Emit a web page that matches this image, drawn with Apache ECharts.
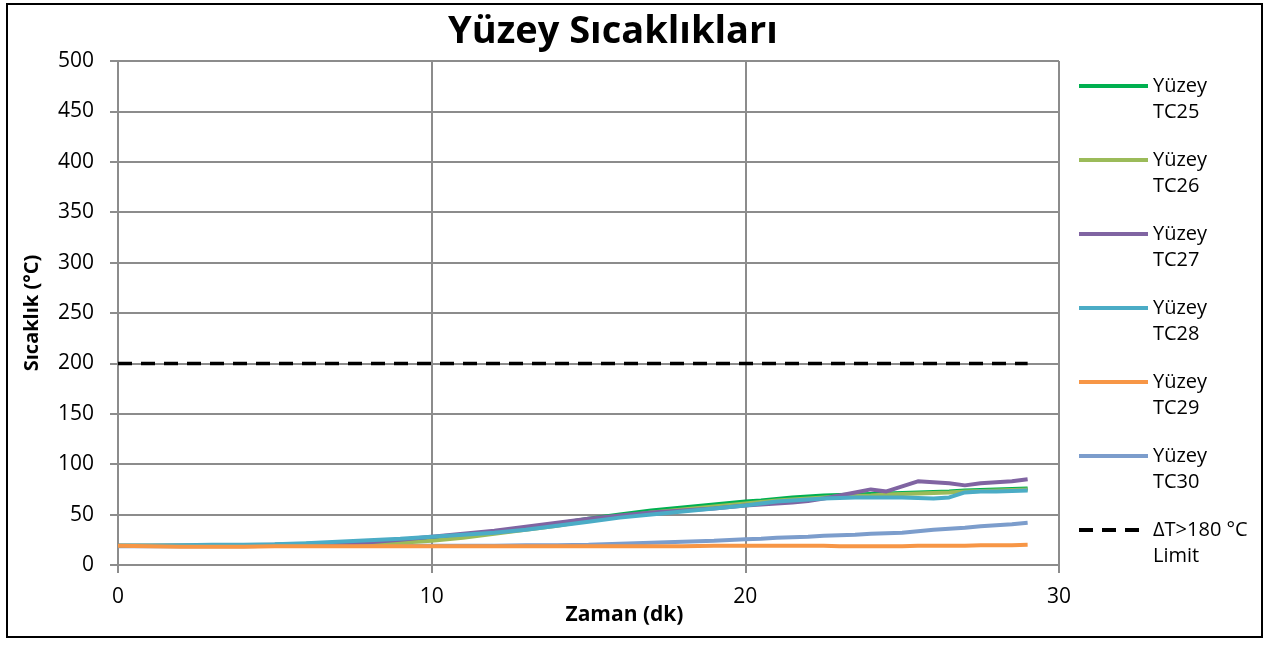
<!DOCTYPE html>
<html>
<head>
<meta charset="utf-8">
<title>Yüzey Sıcaklıkları</title>
<script src="https://cdn.jsdelivr.net/npm/echarts@6/dist/echarts.min.js"></script>
<style>
  html, body { margin: 0; padding: 0; background: #fff; }
  #chart { width: 1270px; height: 652px; }
</style>
</head>
<body>
<div id="chart"></div>
<script>
'use strict';

// time axis (minutes)
var minutes = [0, 1, 2, 3, 4, 5, 6, 7, 8, 9, 10, 11, 12, 13, 14, 15, 16, 17, 18, 19, 20,
  20.5, 21, 21.5, 22, 22.5, 23, 23.5, 24, 24.5, 25, 25.5, 26, 26.5, 27, 27.5, 28, 28.5, 29];

var tc25 = [19, 19, 19, 19, 19.5, 20, 21, 21.5, 22, 23, 26, 29, 33, 37, 41, 46, 50, 54, 57, 60, 63,
  64, 65.5, 67, 68, 69, 69.5, 70, 70.5, 71, 71.5, 72, 72.5, 73, 74, 74.5, 75, 75.5, 76];
var tc26 = [19, 19, 19, 19, 19, 19.5, 20, 20.5, 21, 22, 24, 27, 31, 35, 39, 44, 48, 52, 55, 58, 61,
  62.5, 64, 65, 66, 67, 68, 68.5, 69, 70, 70.5, 71, 71.5, 72, 73, 73.5, 74, 74.5, 75];
var tc27 = [19, 19, 19, 19, 19.5, 20, 20.5, 21, 22.5, 25, 28, 31, 34, 38, 42, 46, 49, 52, 54, 56, 59,
  60, 61, 62, 63.5, 66, 69, 72, 75, 73, 78, 83, 82, 81, 79, 81, 82, 83, 85];
var tc28 = [19, 19, 19.5, 20, 20, 20.5, 21.5, 23, 24.5, 26, 28, 30, 32, 35, 39, 43, 47, 50, 53, 56, 59,
  61, 63, 64, 65, 66, 66.5, 67, 67, 67, 67, 66.5, 66, 67, 72, 73, 73, 73.5, 74];
var tc29 = [19, 18.5, 18, 18, 18, 18.5, 18.5, 18.5, 18.5, 18.5, 18.5, 18.5, 18.5, 18.5, 18.5, 18.5, 18.5, 18.5, 18.5, 19, 19,
  19, 19, 19, 19, 19, 18.5, 18.5, 18.5, 18.5, 18.5, 19, 19, 19, 19, 19.5, 19.5, 19.5, 20];
var tc30 = [18.5, 18.5, 18.5, 18.5, 18.5, 19, 19, 19, 19, 19, 19, 19, 19, 19.5, 19.5, 20, 21, 22, 23, 24, 25.5,
  26, 27, 27.5, 28, 29, 29.5, 30, 31, 31.5, 32, 33.5, 35, 36, 37, 38.5, 39.5, 40.5, 42];

var limitTimes = [0, 29];
var limitValues = [200, 200];

var seriesNames = ['Yüzey\nTC25', 'Yüzey\nTC26', 'Yüzey\nTC27', 'Yüzey\nTC28', 'Yüzey\nTC29', 'Yüzey\nTC30'];
var seriesValues = [tc25, tc26, tc27, tc28, tc29, tc30];
var colors = ['#00b050', '#9bbb59', '#8064a2', '#4bacc6', '#f79646', '#7c9dcc'];
var limitName = 'ΔT>180 °C\nLimit';

function pairs(xs, ys) {
  return xs.map(function (x, i) { return [x, ys[i]]; });
}

var myChart = echarts.init(document.getElementById('chart'));

var series = seriesValues.map(function (vals, i) {
  return {
    name: seriesNames[i],
    type: 'line',
    symbol: 'none',
    data: pairs(minutes, vals),
    lineStyle: { color: colors[i], width: 4 },
    itemStyle: { color: colors[i] },
    z: 2 + (i === 5 ? 0 : i)
  };
});
series.push({
  name: limitName,
  type: 'line',
  symbol: 'none',
  data: pairs(limitTimes, limitValues),
  lineStyle: { color: '#000', width: 3.5, type: [14, 9] },
  itemStyle: { color: '#000' }
});

var gridColor = '#8c8c8c';

var option = {
  animation: false,
  backgroundColor: '#fff',
  textStyle: { fontFamily: 'Open Sans' },
  title: {
    text: 'Yüzey Sıcaklıkları',
    left: 443,
    top: 8,
    textStyle: { fontFamily: 'Open Sans', fontWeight: 'bold', fontSize: 38, color: '#000' }
  },
  grid: { left: 118, right: 211, top: 61, bottom: 87 },
  legend: {
    orient: 'vertical',
    left: 1077,
    top: 47,
    padding: 0,
    itemGap: -4,
    itemWidth: 69,
    itemHeight: 4,
    data: seriesNames.concat([limitName]),
    // blank first line keeps the icon level with the first text line
    formatter: function (name) { return '\n' + name; },
    itemStyle: { opacity: 0 },
    lineStyle: { width: 4 },
    textStyle: {
      fontFamily: 'Open Sans',
      fontSize: 20,
      color: '#000',
      lineHeight: 26
    }
  },
  xAxis: {
    type: 'value',
    min: 0,
    max: 30,
    interval: 10,
    name: 'Zaman (dk)',
    nameLocation: 'middle',
    nameGap: 40,
    nameMoveOverlap: false,
    nameTextStyle: { fontFamily: 'Open Sans', fontWeight: 'bold', fontSize: 21, color: '#000', padding: [0, 0, 0, 72] },
    axisLine: { show: true, lineStyle: { color: gridColor, width: 2 } },
    axisTick: { show: true, length: 8, lineStyle: { color: gridColor, width: 2 } },
    axisLabel: { margin: 22, fontSize: 21, color: '#000', fontFamily: 'Open Sans' },
    splitLine: { show: true, lineStyle: { color: gridColor, width: 2 } }
  },
  yAxis: {
    type: 'value',
    min: 0,
    max: 500,
    interval: 50,
    name: 'Sıcaklık (°C)',
    nameLocation: 'middle',
    nameGap: 76,
    nameTextStyle: { fontFamily: 'Open Sans', fontWeight: 'bold', fontSize: 20, color: '#000' },
    axisLine: { show: true, lineStyle: { color: gridColor, width: 2 } },
    axisTick: { show: true, length: 8, lineStyle: { color: gridColor, width: 2 } },
    axisLabel: { margin: 24, fontSize: 21, color: '#000', fontFamily: 'Open Sans' },
    splitLine: { show: true, lineStyle: { color: gridColor, width: 2 } }
  },
  graphic: [{
    type: 'rect',
    shape: { x: 7, y: 4, width: 1255, height: 633 },
    style: { fill: 'none', stroke: '#000', lineWidth: 2 },
    silent: true,
    z: 100
  }],
  series: series
};

myChart.setOption(option);
</script>
</body>
</html>
